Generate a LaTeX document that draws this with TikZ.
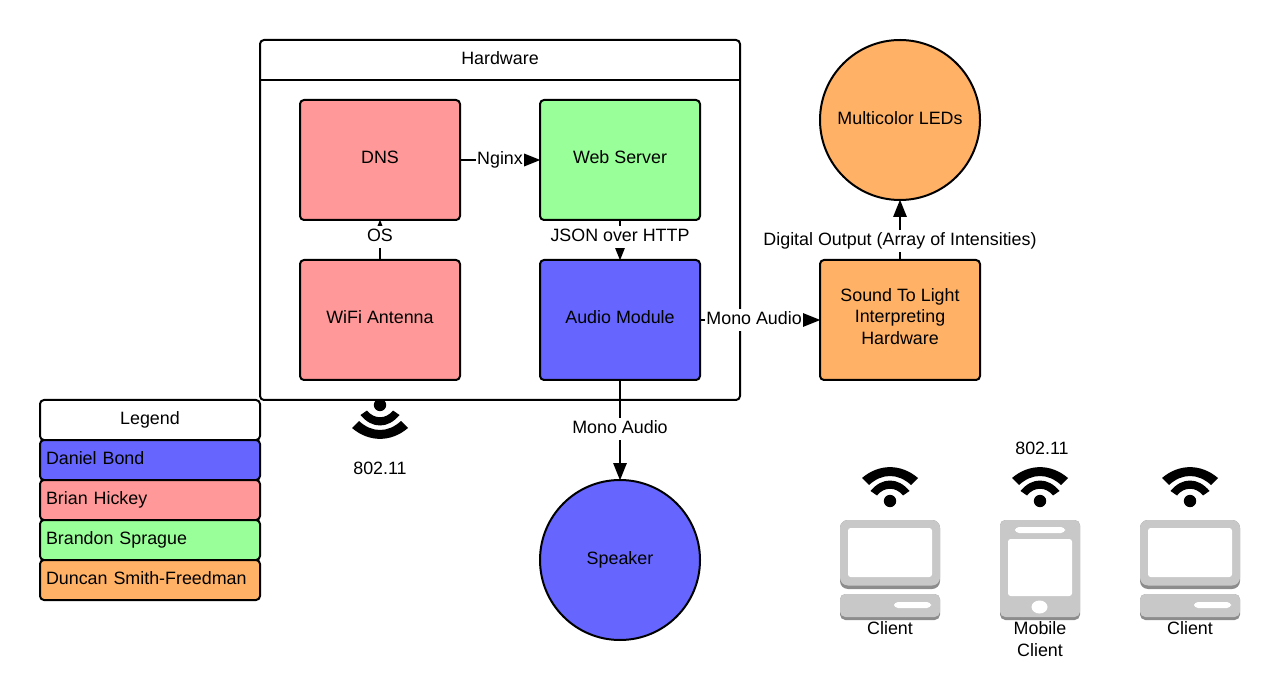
\documentclass[tikz,border=0pt]{standalone}
\usepackage{fontspec}
\setmainfont{Liberation Sans}
\usetikzlibrary{arrows.meta}
\definecolor{cblue}{HTML}{6666FF}
\definecolor{cred}{HTML}{FF9999}
\definecolor{cgreen}{HTML}{99FF99}
\definecolor{corange}{HTML}{FFB266}
\definecolor{iconlight}{HTML}{C8C8C8}
\definecolor{icondark}{HTML}{8C8C8C}
\tikzset{
  x=0.75pt,y=-0.75pt,
  every node/.style={font=\fontsize{13.4pt}{16.2pt}\selectfont,text=black},
  oneline/.style={text height=12pt,text depth=4.7pt},
  blockline/.style={text height=12pt,text depth=6.2pt},
  block/.style={draw=black,line width=1.5pt,rounded corners=3pt,minimum width=120pt,minimum height=90pt,align=center,inner sep=0pt},
  legendbox/.style={draw=black,line width=1.5pt,rounded corners=3pt,minimum width=165pt,minimum height=30pt,inner sep=0pt,oneline},
  legendtext/.style={legendbox,align=left,text width=156pt},
  disc/.style={draw=black,line width=1.5pt,circle,minimum size=120pt,inner sep=0pt,align=center},
  link/.style={draw=black,line width=1.5pt,shorten >=-1pt,-{Triangle[length=13pt,width=10pt]}},
  plainline/.style={draw=black,line width=1.5pt},
  tag/.style={fill=white,inner xsep=.75pt,inner ysep=0pt,oneline},
  caption/.style={align=center,inner sep=0pt},
  wifi/.pic={
    \fill[black] (0,0) circle[radius=6.2];
    \fill[black] (-19.5,-10) .. controls (-8,-24) and (8,-24) .. (19.5,-10) -- (13,-5.5) .. controls (6,-14.5) and (-6,-14.5) .. (-13,-5.5) -- cycle;
    \fill[black] (-28,-23) .. controls (-11,-37.5) and (11,-37.5) .. (28,-23) -- (21,-16) .. controls (8,-28) and (-8,-28) .. (-21,-16) -- cycle;
  },
  wifidown/.pic={
    \fill[black] (0,0) circle[radius=6.2];
    \fill[black] (-19.5,10) .. controls (-8,24) and (8,24) .. (19.5,10) -- (13,5.5) .. controls (6,14.5) and (-6,14.5) .. (-13,5.5) -- cycle;
    \fill[black] (-28,23) .. controls (-11,37.5) and (11,37.5) .. (28,23) -- (21,16) .. controls (8,28) and (-8,28) .. (-21,16) -- cycle;
  },
  laptop/.pic={
    \fill[icondark,rounded corners=6pt] (0,0) rectangle (100,69);
    \fill[iconlight,rounded corners=6pt] (0,0) rectangle (100,65.5);
    \fill[white,rounded corners=2pt] (8,8) rectangle (92,57);
    \fill[icondark,rounded corners=4pt] (0,74) rectangle (100,100);
    \fill[iconlight,rounded corners=4pt] (0,74) rectangle (100,97);
    \fill[white,rounded corners=3pt] (54,82) rectangle (91,88);
  },
  phone/.pic={
    \fill[icondark,rounded corners=4pt] (0,0) rectangle (80,100);
    \fill[iconlight,rounded corners=4pt] (0,0) rectangle (80,97);
    \fill[white,rounded corners=3pt] (15,7) rectangle (65,13);
    \fill[white,rounded corners=2pt] (8,19) rectangle (72,76);
    \fill[white] (39.5,87) ellipse[x radius=8,y radius=6.5];
  },
}
\begin{document}
\begin{tikzpicture}
\useasboundingbox (0,0) rectangle (1280,680);

% Hardware container
\pic at (380,405) {wifidown};
\node[draw=black,line width=1.5pt,rounded corners=3pt,fill=white,minimum width=360pt,minimum height=270pt,inner sep=0pt] (hw) at (500,220) {};
\node[inner sep=0pt,oneline] (hwtitle) at (500,59.5) {Hardware};
\draw[plainline] (hw.west |- 0,80) coordinate (hwl) -- (hw.east |- 0,80) coordinate (hwr);

\node[block,fill=cred,blockline] (dns) at (380,160) {DNS};
\node[block,fill=cgreen,blockline] (web) at (620,160) {Web Server};
\node[block,fill=cred,blockline] (wifi) at (380,320) {WiFi Antenna};
\node[block,fill=cblue,blockline] (audio) at (620,320) {Audio Module};
\node[block,fill=corange] (sound) at (900,320) {};
\node[inner sep=0pt,align=center] (soundtext) at (900,316.5) {Sound To Light\\Interpreting\\Hardware};
\node[disc,fill=corange,oneline] (leds) at (900,120) {Multicolor LEDs};
\node[disc,fill=cblue,oneline] (speaker) at (620,560) {Speaker};

% Connectors
\draw[link] (dns) -- node[tag,pos=.5] {Nginx} (web);
\draw[link] (wifi) -- node[tag,pos=.58] {OS} (dns);
\draw[link] (web) -- node[tag,pos=.42] {JSON over HTTP} (audio);
\draw[link] (audio) -- node[tag,pos=.45] {Mono Audio} (sound);
\draw[link] (audio) -- node[tag,pos=.49] {Mono Audio} (speaker);
\draw[link] (sound) -- node[tag,pos=.315] {Digital Output (Array of Intensities)} (leds);

% Legend
\node[legendbox,fill=white] (lg0) at (150,420) {Legend};
\node[legendtext,fill=cblue] (lg1) at (150,460) {Daniel Bond};
\node[legendtext,fill=cred] (lg2) at (150,500) {Brian Hickey};
\node[legendtext,fill=cgreen] (lg3) at (150,540) {Brandon Sprague};
\node[legendtext,fill=corange] (lg4) at (150,580) {Duncan Smith-Freedman};

\node[caption,oneline] (wifilabel) at (380,469.5) {802.11};
\node[caption,oneline] (mobwifi) at (1042,450) {802.11};

% Clients
\pic at (890,501) {wifi};
\pic at (1040,501) {wifi};
\pic at (1190,501) {wifi};
\pic at (840,520) {laptop};
\pic at (1000,520) {phone};
\pic at (1140,520) {laptop};
\node[caption,oneline] (c1) at (890,630) {Client};
\node[caption] (c2) at (1040,639) {Mobile\\Client};
\node[caption,oneline] (c3) at (1190,630) {Client};
\end{tikzpicture}
\end{document}
